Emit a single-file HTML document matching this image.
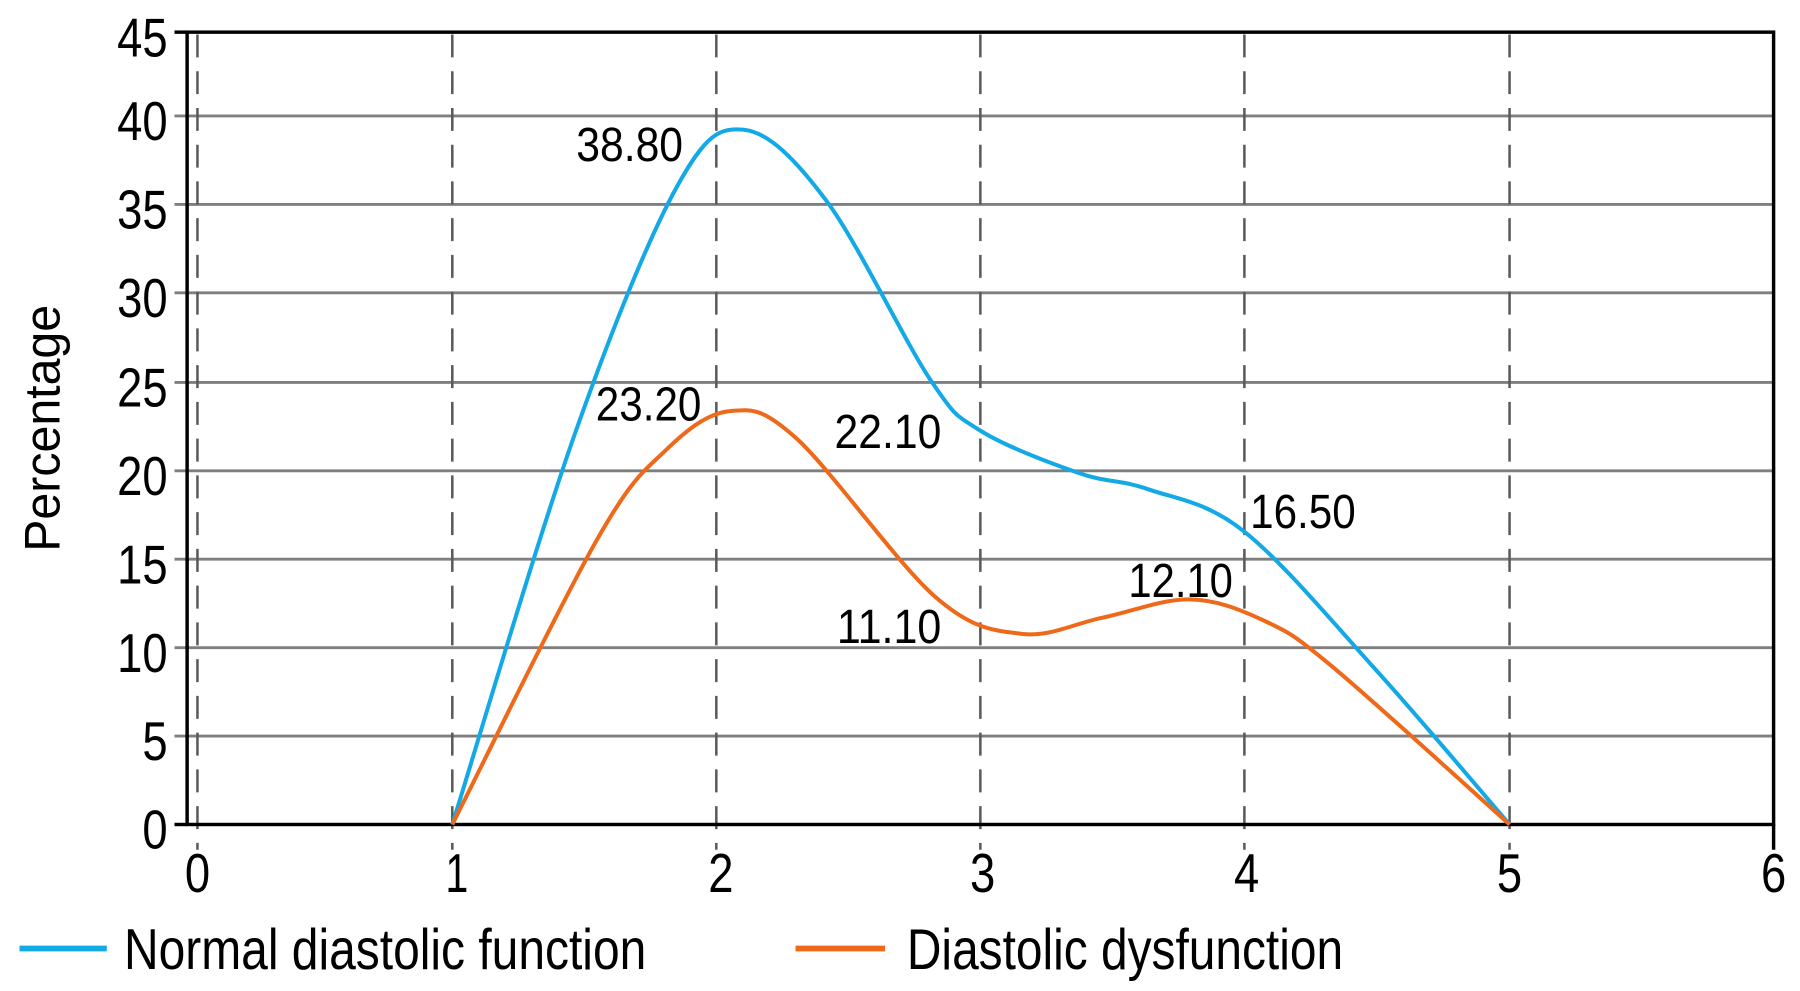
<!DOCTYPE html>
<html><head><meta charset="utf-8"><style>html,body{margin:0;padding:0;background:#fff}svg{display:block}</style></head>
<body>
<svg id="s" width="1800" height="991" viewBox="0 0 1568 863" preserveAspectRatio="none" xmlns="http://www.w3.org/2000/svg" font-family="'Liberation Sans Narrow','Liberation Sans',sans-serif">
<g stroke="#7f7f7f" stroke-width="2.5">
<line x1="152" y1="101" x2="1545" y2="101"/><line x1="152" y1="178" x2="1545" y2="178"/>
<line x1="152" y1="255" x2="1545" y2="255"/><line x1="152" y1="333" x2="1545" y2="333"/>
<line x1="152" y1="410" x2="1545" y2="410"/><line x1="152" y1="487" x2="1545" y2="487"/>
<line x1="152" y1="564" x2="1545" y2="564"/><line x1="152" y1="641" x2="1545" y2="641"/>
</g>
<g stroke="#5a5a5a" stroke-width="2.2" stroke-dasharray="20,12">
<line x1="172" y1="30" x2="172" y2="740"/><line x1="394" y1="30" x2="394" y2="740"/>
<line x1="624" y1="30" x2="624" y2="740"/><line x1="854" y1="30" x2="854" y2="740"/>
<line x1="1084" y1="30" x2="1084" y2="740"/><line x1="1315" y1="30" x2="1315" y2="740"/>
</g>
<g stroke="#000" stroke-width="3" fill="none">
<rect x="163" y="28" width="1382" height="690"/>
<line x1="152" y1="28" x2="163" y2="28"/><line x1="152" y1="718" x2="163" y2="718"/>
<line x1="1545" y1="718" x2="1545" y2="740"/>
</g>
<path id="pb" fill="none" stroke="#12a9e6" stroke-width="3.5"/>
<path id="po" fill="none" stroke="#ee6a1a" stroke-width="3.5"/>
<g font-size="48" fill="#000" text-anchor="end" lengthAdjust="spacingAndGlyphs">
<text x="146" y="49" textLength="44" lengthAdjust="spacingAndGlyphs">45</text><text x="146" y="122" textLength="44" lengthAdjust="spacingAndGlyphs">40</text><text x="146" y="199" textLength="44" lengthAdjust="spacingAndGlyphs">35</text>
<text x="146" y="276" textLength="44" lengthAdjust="spacingAndGlyphs">30</text><text x="146" y="354" textLength="44" lengthAdjust="spacingAndGlyphs">25</text><text x="146" y="431" textLength="44" lengthAdjust="spacingAndGlyphs">20</text>
<text x="146" y="508" textLength="44" lengthAdjust="spacingAndGlyphs">15</text><text x="146" y="585" textLength="44" lengthAdjust="spacingAndGlyphs">10</text><text x="146" y="662" textLength="22" lengthAdjust="spacingAndGlyphs">5</text><text x="146" y="739" textLength="22" lengthAdjust="spacingAndGlyphs">0</text>
</g>
<g font-size="48" fill="#000" text-anchor="middle">
<text x="172" y="777" textLength="22" lengthAdjust="spacingAndGlyphs">0</text><text x="398" y="777" textLength="20" lengthAdjust="spacingAndGlyphs">1</text><text x="628" y="777" textLength="22" lengthAdjust="spacingAndGlyphs">2</text>
<text x="856" y="777" textLength="22" lengthAdjust="spacingAndGlyphs">3</text><text x="1086" y="777" textLength="22" lengthAdjust="spacingAndGlyphs">4</text><text x="1315" y="777" textLength="22" lengthAdjust="spacingAndGlyphs">5</text><text x="1545" y="777" textLength="22" lengthAdjust="spacingAndGlyphs">6</text>
</g>
<text transform="translate(52,373) rotate(-90)" font-size="44" text-anchor="middle" textLength="215" lengthAdjust="spacingAndGlyphs">Percentage</text>
<g font-size="42" fill="#000">
<text x="502" y="140" textLength="93" lengthAdjust="spacingAndGlyphs">38.80</text>
<text x="519" y="366" textLength="92" lengthAdjust="spacingAndGlyphs">23.20</text>
<text x="727" y="390" textLength="93" lengthAdjust="spacingAndGlyphs">22.10</text>
<text x="729" y="560" textLength="91" lengthAdjust="spacingAndGlyphs">11.10</text>
<text x="983" y="520" textLength="91" lengthAdjust="spacingAndGlyphs">12.10</text>
<text x="1089" y="460" textLength="92" lengthAdjust="spacingAndGlyphs">16.50</text>
</g>
<line x1="17" y1="826" x2="93" y2="826" stroke="#12a9e6" stroke-width="5"/>
<text x="108" y="844" font-size="50" textLength="455" lengthAdjust="spacingAndGlyphs">Normal diastolic function</text>
<line x1="693" y1="826" x2="771" y2="826" stroke="#ee6a1a" stroke-width="5"/>
<text x="790" y="844" font-size="50" textLength="380" lengthAdjust="spacingAndGlyphs">Diastolic dysfunction</text>
</svg>
<script>
function cr(p){var d="M"+p[0][0]+","+p[0][1];for(var i=0;i<p.length-1;i++){var a=p[i-1]||p[i],b=p[i],c=p[i+1],e=p[i+2]||c;
d+=" C"+(b[0]+(c[0]-a[0])/6)+","+(b[1]+(c[1]-a[1])/6)+" "+(c[0]-(e[0]-b[0])/6)+","+(c[1]-(e[1]-b[1])/6)+" "+c[0]+","+c[1];}return d;}
document.getElementById("pb").setAttribute("d",cr([[394,718],[500,380],[590,162],[648,113],[720,175],[810,330],[854,375],[940,412],[1000,426],[1084,463],[1200,585],[1315,718]]));
document.getElementById("po").setAttribute("d",cr([[394,718],[520,470],[580,392],[636,358],[694,382],[815,520],[890,552],[960,538],[1036,522],[1100,540],[1160,580],[1315,718]]));
</script>
</body></html>
